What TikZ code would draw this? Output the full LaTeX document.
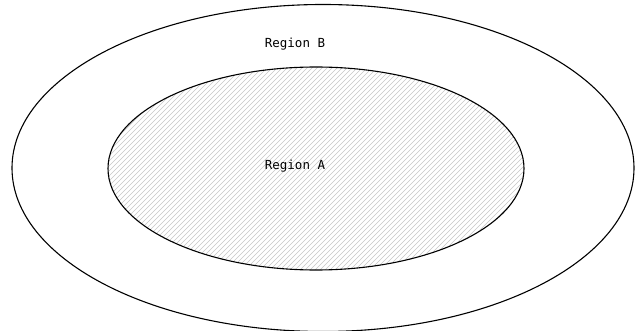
\documentclass[tikz,border=0pt]{standalone}
\usepackage{fontspec}
\setmonofont{DejaVu Sans Mono}

\begin{document}
\begin{tikzpicture}[x=1pt,y=-1pt,
  region/.style={draw,line width=1.1pt},
  hatch/.style={gray!45,line width=0.5pt},
  lbl/.style={font=\ttfamily\fontsize{12.5}{14}\selectfont}]
\useasboundingbox (0,0) rectangle (635,331);
% hatched inner region
\begin{scope}
  \clip (316,168.5) ellipse (208 and 101.5);
  \foreach \i in {-200,-195,...,640}
    \draw[hatch] (\i,300) -- (\i+300,0);
\end{scope}
\draw[region] (323,168) ellipse (311 and 163.5);
\draw[region] (316,168.5) ellipse (208 and 101.5);
\node[lbl] (regb) at (295,44) {Region B};
\node[lbl] (rega) at (295,166) {Region A};
\end{tikzpicture}
\end{document}
